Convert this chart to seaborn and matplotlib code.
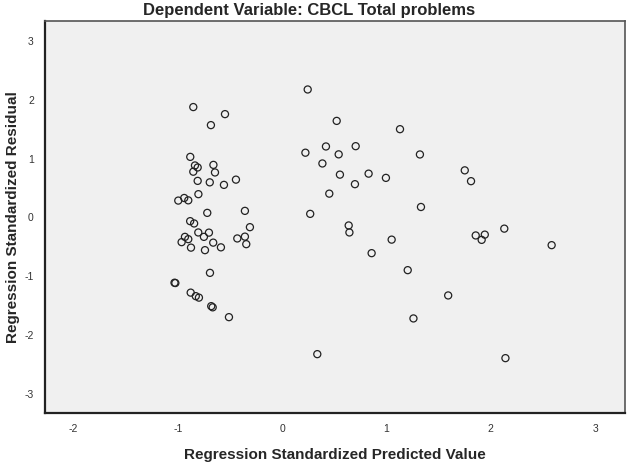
import seaborn as sns
import matplotlib.pyplot as plt
import pandas as pd

# standardized predicted values (x) and residuals (y)
predicted = [
    -0.853, -0.549, -0.684, -0.882, -0.837, -0.811, -0.853, -0.660, -0.645,
    -0.811, -0.695, -0.559, -0.444, -0.997, -0.940, -0.901, -0.804, -0.719,
    -0.358, -0.883, -0.845, -0.310, -0.805, -0.703, -0.751, -0.933, -0.901,
    -0.965, -0.875, -0.662, -0.588, -0.741, -0.431, -0.358, -0.345, -0.693,
    -1.033, -1.025, -0.878, -0.829, -0.799, -0.681, -0.667, -0.511,
    0.244, 0.222, 0.268, 0.522, 1.129, 0.419, 0.704, 0.541, 1.320, 0.385,
    0.553, 0.828, 0.994, 0.697, 1.750, 1.810, 0.451, 1.330, 0.637, 0.644,
    1.049, 1.855, 1.942, 1.912, 2.129, 2.583, 0.857, 1.203, 1.591, 1.258,
    0.336, 2.140,
]
residual = [
    1.877, 1.757, 1.570, 1.030, 0.884, 0.850, 0.778, 0.894, 0.765,
    0.622, 0.597, 0.554, 0.643, 0.287, 0.331, 0.291, 0.396, 0.078,
    0.112, -0.063, -0.102, -0.165, -0.255, -0.258, -0.330, -0.330, -0.369,
    -0.420, -0.513, -0.428, -0.508, -0.556, -0.357, -0.326, -0.454, -0.942,
    -1.110, -1.115, -1.278, -1.338, -1.363, -1.508, -1.528, -1.695,
    2.176, 1.101, 0.061, 1.642, 1.501, 1.207, 1.212, 1.073, 1.071, 0.918,
    0.728, 0.745, 0.673, 0.566, 0.801, 0.617, 0.405, 0.178, -0.136, -0.255,
    -0.377, -0.306, -0.292, -0.381, -0.190, -0.471, -0.607, -0.896, -1.326, -1.717,
    -2.324, -2.392,
]
x_ticks = [-2, -1, 0, 1, 2, 3]
y_ticks = [-3, -2, -1, 0, 1, 2, 3]

df = pd.DataFrame({"pred": predicted, "resid": residual})

sns.set_theme(style="white")
plt.rcParams["font.family"] = ["Liberation Sans", "DejaVu Sans"]
plt.rcParams["axes.unicode_minus"] = False

fig = plt.figure(figsize=(6.3, 4.63), dpi=100)
ax = fig.add_axes([0.0714, 0.1086, 0.9206, 0.846])
ax.set_facecolor("#f0f0f0")

sns.scatterplot(
    data=df, x="pred", y="resid", ax=ax,
    marker="o", s=26, facecolor="none", edgecolor="#222222", linewidth=0.9,
)

ax.set_xlim(-2.275, 3.286)
ax.set_ylim(-3.32, 3.34)
ax.set_xticks(x_ticks)
ax.set_yticks(y_ticks)
ax.tick_params(axis="both", direction="out", length=4, width=0.8,
               color="#555555", labelsize=7.5, labelcolor="#333333", pad=4)

for side in ["left", "bottom"]:
    ax.spines[side].set_color("#222222")
    ax.spines[side].set_linewidth(1.6)
for side in ["top", "right"]:
    ax.spines[side].set_color("#555555")
    ax.spines[side].set_linewidth(1.2)

ax.set_xlabel("Regression Standardized Predicted Value", fontsize=11,
              fontweight="bold", labelpad=10)
ax.set_ylabel("Regression Standardized Residual", fontsize=11,
              fontweight="bold", labelpad=3)
fig.text(0.491, 0.978, "Dependent Variable: CBCL Total problems",
         ha="center", va="center", fontsize=12, fontweight="bold")

fig.savefig("out.png", dpi=100)
